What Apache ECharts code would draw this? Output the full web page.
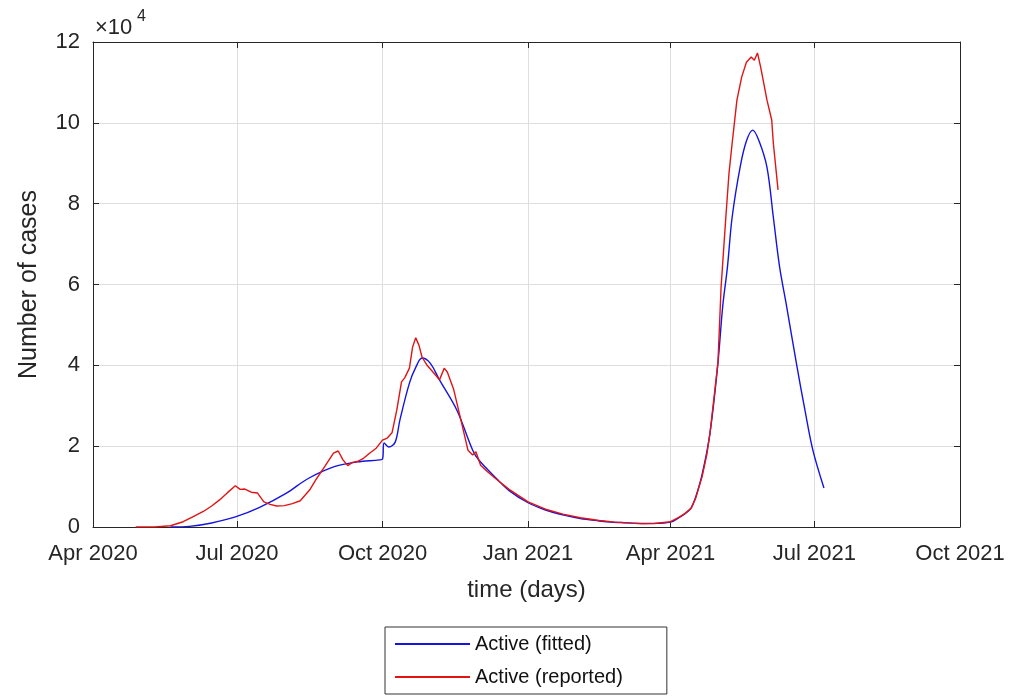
<!DOCTYPE html>
<html><head><meta charset="utf-8">
<script src="https://cdn.jsdelivr.net/npm/echarts@6/dist/echarts.min.js"></script>
<style>html,body{margin:0;padding:0;background:#fff}#c{width:1016px;height:697px}</style>
</head><body><div id="c"></div>
<script>
const tickDates = ['2020-04-01','2020-07-01','2020-10-01','2021-01-01','2021-04-01','2021-07-01','2021-10-01'];
const tickLabels = ['Apr 2020','Jul 2020','Oct 2020','Jan 2021','Apr 2021','Jul 2021','Oct 2021'];
const yTickLabels = ['0','2','4','6','8','10','12'];
const yExponent = '4';
const seriesNames = ['Active (fitted)','Active (reported)'];

const fittedDates = ['2020-05-20','2020-06-01','2020-06-15','2020-06-30','2020-07-15','2020-08-01','2020-08-15','2020-09-01','2020-09-15','2020-09-29','2020-10-01','2020-10-02','2020-10-05','2020-10-09','2020-10-12','2020-10-18','2020-10-22','2020-10-26','2020-10-31','2020-11-06','2020-11-17','2020-11-27','2020-12-01','2020-12-12','2020-12-20','2021-01-01','2021-01-12','2021-01-23','2021-02-03','2021-02-15','2021-02-22','2021-03-01','2021-03-14','2021-03-22','2021-04-01','2021-04-06','2021-04-10','2021-04-14','2021-04-17','2021-04-21','2021-04-26','2021-05-01','2021-05-04','2021-05-07','2021-05-10','2021-05-15','2021-05-19','2021-05-23','2021-05-27','2021-06-01','2021-06-05','2021-06-09','2021-06-13','2021-06-20','2021-06-25','2021-06-30','2021-07-07'];
const fittedValues = [0,150,1000,2500,4800,8300,12000,15000,16100,16600,16800,20800,19800,21000,26500,35600,39500,41800,40600,36400,28900,19000,16500,12000,9000,6000,4200,3000,2100,1500,1200,1100,900,900,1200,2200,3200,4700,7500,13000,23300,40600,54500,64300,76700,89000,95500,98200,95500,89000,76700,64300,55500,39600,28900,19000,9650];

const reportedDates = ['2020-04-28','2020-05-10','2020-05-20','2020-05-28','2020-06-04','2020-06-10','2020-06-15','2020-06-20','2020-06-25','2020-06-30','2020-07-03','2020-07-06','2020-07-10','2020-07-14','2020-07-18','2020-07-22','2020-07-26','2020-07-31','2020-08-05','2020-08-10','2020-08-16','2020-08-20','2020-08-24','2020-08-28','2020-08-31','2020-09-03','2020-09-06','2020-09-09','2020-09-12','2020-09-15','2020-09-19','2020-09-23','2020-09-27','2020-10-01','2020-10-04','2020-10-07','2020-10-10','2020-10-13','2020-10-15','2020-10-18','2020-10-20','2020-10-22','2020-10-24','2020-10-26','2020-10-29','2020-11-02','2020-11-06','2020-11-09','2020-11-11','2020-11-15','2020-11-20','2020-11-24','2020-11-27','2020-11-29','2020-12-02','2020-12-06','2020-12-12','2020-12-20','2021-01-01','2021-01-12','2021-01-23','2021-02-03','2021-02-15','2021-02-25','2021-03-07','2021-03-14','2021-03-22','2021-04-01','2021-04-06','2021-04-10','2021-04-14','2021-04-17','2021-04-21','2021-04-24','2021-04-26','2021-05-01','2021-05-03','2021-05-06','2021-05-08','2021-05-10','2021-05-13','2021-05-16','2021-05-19','2021-05-22','2021-05-24','2021-05-26','2021-05-28','2021-06-01','2021-06-04','2021-06-05','2021-06-08'];
const reportedValues = [0,0,300,1300,2700,3900,5200,6700,8500,10200,9300,9400,8600,8400,6200,5600,5200,5300,5800,6500,9200,11800,14100,16500,18300,18800,16600,15200,16000,16200,17000,18300,19500,21500,22000,23300,28900,35900,36900,39300,44500,46800,45000,42000,40100,38300,36400,39300,38300,34000,25700,19000,17800,18600,15300,13800,11800,9300,6200,4400,3200,2300,1600,1200,950,800,850,1300,2300,3300,4600,7200,12500,18000,23300,40600,59400,76700,87600,95000,105600,111300,115000,116300,115500,117300,113800,105600,100700,95000,83400];

// day number since the first tick date (linear time scale)
const t0 = Date.UTC(2020, 3, 1);
const dayOf = s => { const [y, m, d] = s.split('-').map(Number); return Math.round((Date.UTC(y, m - 1, d) - t0) / 86400000); };
const tickDays = tickDates.map(dayOf);
const xMin = tickDays[0], xMax = tickDays[tickDays.length - 1];
const fittedData = fittedDates.map((d, i) => [dayOf(d), fittedValues[i]]);
const reportedData = reportedDates.map((d, i) => [dayOf(d), reportedValues[i]]);
const yStep = 20000, yMax = yStep * (yTickLabels.length - 1);

const FONT = 'Liberation Sans, Arial, sans-serif';
const AX = '#262626';
const chart = echarts.init(document.getElementById('c'), null, {renderer: 'canvas'});
chart.setOption({
  animation: false,
  backgroundColor: '#fff',
  grid: {left: 93, right: 56, top: 42, bottom: 170, containLabel: false, outerBoundsMode: 'none'},
  xAxis: [{
    type: 'value', min: xMin, max: xMax, position: 'bottom',
    axisLine: {show: true, onZero: false, lineStyle: {color: AX, width: 1}},
    axisTick: {show: true, inside: true, length: 6, customValues: tickDays, lineStyle: {color: AX}},
    axisLabel: {show: true, customValues: tickDays, margin: 16, color: AX, fontSize: 22, fontFamily: FONT,
      formatter: v => { const i = tickDays.indexOf(v); return i >= 0 ? tickLabels[i] : ''; }},
    splitLine: {show: true, lineStyle: {color: '#dedede', width: 1}},
    name: 'time (days)', nameLocation: 'middle', nameGap: 51,
    nameTextStyle: {color: AX, fontSize: 24, fontFamily: FONT}
  }, {
    type: 'value', min: xMin, max: xMax, position: 'top',
    axisLine: {show: true, onZero: false, lineStyle: {color: AX, width: 1}},
    axisTick: {show: true, inside: true, length: 6, customValues: tickDays, lineStyle: {color: AX}},
    axisLabel: {show: false}, splitLine: {show: false}
  }],
  yAxis: [{
    type: 'value', min: 0, max: yMax, interval: yStep, position: 'left',
    axisLine: {show: true, onZero: false, lineStyle: {color: AX, width: 1}},
    axisTick: {show: true, inside: true, length: 6, lineStyle: {color: AX}},
    axisLabel: {show: true, margin: 13, color: AX, fontSize: 22, fontFamily: FONT,
      formatter: v => yTickLabels[Math.round(v / yStep)]},
    splitLine: {show: true, lineStyle: {color: '#dedede', width: 1}},
    name: 'Number of cases', nameLocation: 'middle', nameGap: 51,
    nameTextStyle: {color: AX, fontSize: 25, fontFamily: FONT}
  }, {
    type: 'value', min: 0, max: yMax, interval: yStep, position: 'right',
    axisLine: {show: true, onZero: false, lineStyle: {color: AX, width: 1}},
    axisTick: {show: true, inside: true, length: 6, lineStyle: {color: AX}},
    axisLabel: {show: false}, splitLine: {show: false}
  }],
  legend: {
    show: true, orient: 'vertical', left: 385, top: 627,
    padding: [7, 44, 7, 10], itemGap: 13, itemWidth: 75, itemHeight: 2, icon: 'rect',
    borderColor: '#333', borderWidth: 1, backgroundColor: '#fff',
    textStyle: {color: '#111', fontSize: 20, fontFamily: FONT},
    data: seriesNames
  },
  graphic: [
    {type: 'text', left: 95, top: 17, style: {text: '×10', fontSize: 22, fontFamily: FONT, fill: AX}},
    {type: 'text', left: 137, top: 9, style: {text: yExponent, fontSize: 16, fontFamily: FONT, fill: AX}}
  ],
  series: [{
    name: seriesNames[0], type: 'line', data: fittedData, symbol: 'none', showSymbol: false,
    smooth: 0.35, color: '#1414e0',
    lineStyle: {color: '#1414e0', width: 1.4}, z: 3
  }, {
    name: seriesNames[1], type: 'line', data: reportedData, symbol: 'none', showSymbol: false,
    smooth: false, color: '#e01414',
    lineStyle: {color: '#e01414', width: 1.4}, z: 4
  }]
});
</script></body></html>
